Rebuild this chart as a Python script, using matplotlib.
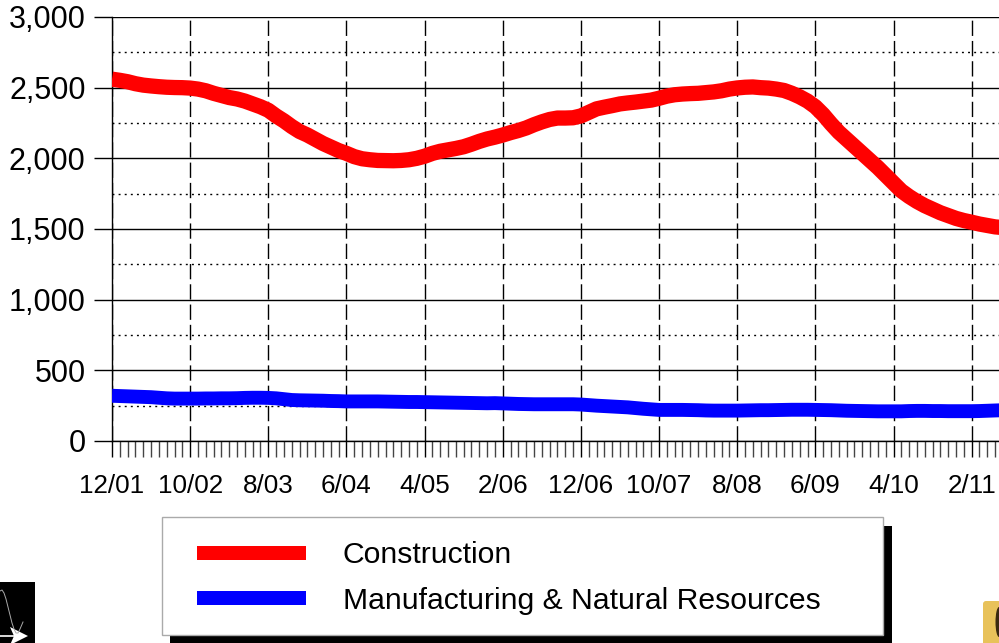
import matplotlib
matplotlib.use('Agg')
import matplotlib.pyplot as plt
from matplotlib.patches import Rectangle, FancyBboxPatch, Polygon, Ellipse
from matplotlib.ticker import MultipleLocator, FuncFormatter

plt.rcParams['font.family'] = ['Liberation Sans', 'DejaVu Sans']

# monthly values (month 0 = 12/01)
construction = [2560, 2552, 2542, 2528, 2518, 2512, 2507, 2503, 2501, 2500,
                2497, 2490, 2478, 2460, 2445, 2430, 2420, 2405, 2385, 2365,
                2340, 2300, 2265, 2225, 2190, 2165, 2135, 2105, 2080, 2055,
                2035, 2012, 1997, 1990, 1985, 1984, 1983, 1985, 1990, 2000,
                2015, 2035, 2050, 2060, 2070, 2082, 2100, 2120, 2137, 2150,
                2165, 2182, 2197, 2215, 2238, 2258, 2275, 2285, 2285, 2287,
                2300, 2325, 2350, 2362, 2373, 2385, 2392, 2398, 2405, 2412,
                2425, 2440, 2450, 2455, 2458, 2460, 2465, 2470, 2478, 2490,
                2498, 2503, 2505, 2500, 2497, 2490, 2480, 2460, 2435, 2405,
                2365, 2310, 2245, 2185, 2135, 2085, 2035, 1985, 1935, 1880,
                1825, 1770, 1730, 1695, 1665, 1640, 1615, 1595, 1575, 1560,
                1548, 1535, 1525, 1515, 1510]
manufacturing = [320, 318, 316, 314, 312, 310, 306, 302, 300, 300,
                 300, 300, 301, 301, 302, 302, 303, 305, 306, 306,
                 305, 302, 296, 290, 288, 287, 286, 285, 283, 282,
                 280, 280, 280, 280, 280, 279, 278, 277, 276, 276,
                 275, 274, 273, 272, 271, 270, 269, 268, 267, 268,
                 266, 264, 262, 261, 260, 260, 260, 260, 260, 260,
                 258, 254, 250, 247, 244, 241, 238, 233, 228, 224,
                 220, 220, 220, 220, 219, 218, 216, 215, 215, 215,
                 215, 216, 217, 218, 218, 219, 220, 221, 221, 221,
                 220, 219, 218, 216, 214, 213, 212, 211, 210, 210,
                 210, 210, 212, 213, 213, 212, 212, 211, 211, 211,
                 211, 212, 214, 216, 218]
months = list(range(len(construction)))

xtick_labels = ['12/01', '10/02', '8/03', '6/04', '4/05', '2/06',
                '12/06', '10/07', '8/08', '6/09', '4/10', '2/11']
series_names = ['Construction', 'Manufacturing & Natural Resources']

W, H = 999, 643
fig = plt.figure(figsize=(W / 100, H / 100), dpi=100, facecolor='white')
ax = fig.add_axes([112 / W, (H - 441) / H, (W - 112) / W, (441 - 17) / H])

ax.plot(months, construction, color='#ff0000', lw=11, solid_capstyle='butt', zorder=5)
ax.plot(months, manufacturing, color='#0000ff', lw=10, solid_capstyle='butt', zorder=5)

ax.set_xlim(0, 887 / 7.815)
ax.set_ylim(0, 3000)

ax.xaxis.set_major_locator(MultipleLocator(10))
ax.xaxis.set_minor_locator(MultipleLocator(1))
ax.xaxis.set_major_formatter(FuncFormatter(
    lambda v, p: xtick_labels[int(round(v / 10))] if 0 <= round(v / 10) < len(xtick_labels) else ''))
ax.yaxis.set_major_locator(MultipleLocator(500))
ax.yaxis.set_minor_locator(MultipleLocator(250))
ax.yaxis.set_major_formatter(FuncFormatter(lambda v, p: f'{int(v):,}'))

ax.tick_params(axis='x', which='major', length=11.5, width=1, pad=12, labelsize=18.7, color='black')
ax.tick_params(axis='x', which='minor', length=11.5, width=1, color='#444444')
ax.tick_params(axis='y', which='major', length=13, width=1, pad=6, labelsize=22, color='black')
ax.tick_params(axis='y', which='minor', length=0)

ax.grid(True, axis='y', which='major', color='black', lw=1, ls='-', zorder=1)
ax.grid(True, axis='y', which='minor', color='black', lw=1, ls=(0, (1.4, 3)), zorder=1)
ax.grid(True, axis='x', which='major', color='black', lw=1, ls=(0, (11, 3.6)), zorder=1)
ax.set_axisbelow(True)

for side in ['top', 'right']:
    ax.spines[side].set_visible(False)
ax.spines['left'].set_linewidth(1)
ax.spines['bottom'].set_linewidth(1)

# overlay in pixel units for the legend box and corner bits
ov = fig.add_axes([0, 0, 1, 1], zorder=10)
ov.set_xlim(0, W)
ov.set_ylim(H, 0)
ov.axis('off')
ov.patch.set_alpha(0)

ov.add_patch(Rectangle((170, 526), 722, 120, fc='black', ec='none'))
ov.add_patch(Rectangle((161.5, 516.5), 721, 118, fc='white', ec='#aaaaaa', lw=1))
ov.add_patch(Rectangle((197, 546), 109, 14, fc='#ff0000', ec='none'))
ov.add_patch(Rectangle((197, 591), 109, 14, fc='#0000ff', ec='none'))
ov.text(343, 555, series_names[0], fontsize=21.7, va='center', ha='left', color='black')
ov.text(343, 601, series_names[1], fontsize=21.7, va='center', ha='left', color='black')

# logo fragments at the bottom corners
ov.add_patch(Rectangle((0, 582), 35, 61, fc='black', ec='none'))
ov.plot([0, 2, 4, 6, 8, 10, 12, 14, 16, 18, 20, 23],
        [591, 590, 593, 599, 607, 615, 623, 629, 633, 633, 629, 622], color='#aaaaaa', lw=0.7)
ov.add_patch(Polygon([[10, 627], [28, 636], [10, 645], [14, 636]], fc='white', ec='none'))
ov.plot([0, 14], [636, 636], color='white', lw=1.2)
ov.add_patch(FancyBboxPatch((986, 604), 30, 60, boxstyle='round,pad=3', fc='#e8c25a', ec='none'))
ov.add_patch(Ellipse((999, 622), 7, 30, fc='#3a2a10', ec='none'))

fig.savefig('out.png', dpi=100)
